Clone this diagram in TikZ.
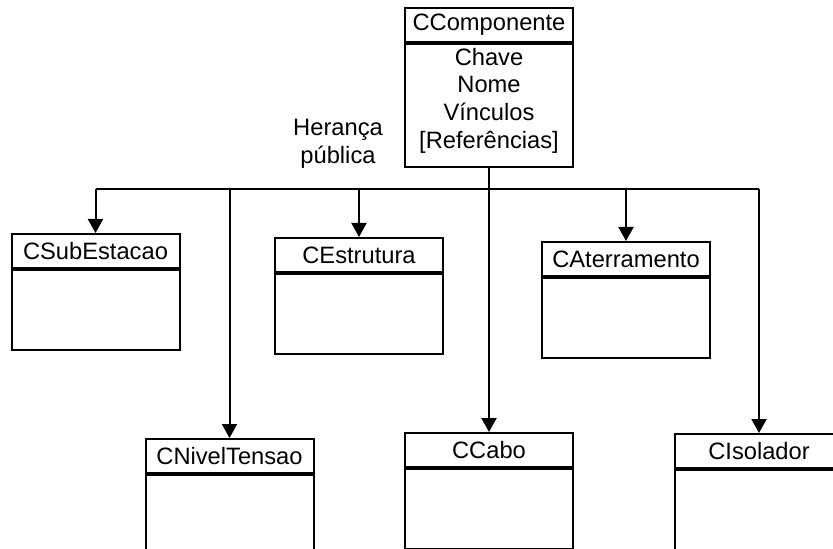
\documentclass[tikz,border=0pt]{standalone}
\usepackage{fontspec}
\setmainfont{Liberation Sans}
\usetikzlibrary{arrows.meta, positioning}
\tikzset{>={Triangle[width=7.5pt,length=7pt]}}
\tikzset{
  classname/.style={draw, line width=1pt, minimum width=84pt, minimum height=17pt, inner sep=0pt, anchor=north},
  classbody/.style={draw, line width=1pt, minimum width=84pt, minimum height=40pt, inner sep=0pt, anchor=north, align=center},
  inherit/.style={->, line width=1pt}
}

\begin{document}
\begin{tikzpicture}[x=0.5pt, y=-0.5pt, font=\fontsize{11.85}{13.85}\selectfont]
\useasboundingbox (0,0) rectangle (833,549);
\clip (0,0) rectangle (833,549);
% base class
\node[classname] (comp) at (489,7) {CComponente};
\node[classbody, minimum height=61.5pt] (comp-b) at (comp.south) {Chave\\Nome\\Vínculos\\{[Referências]}\rule[-7.5pt]{0pt}{1pt}};
% derived classes
\foreach \n/\t/\x/\y in {sub/CSubEstacao/95.5/233, estr/CEstrutura/359/237, ater/CAterramento/626/241,
  nivel/CNivelTensao/229.5/438, cabo/CCabo/489/432, iso/CIsolador/759/433}{
  \node[classname] (\n) at (\x,\y) {\t};
  \node[classbody] (\n-b) at (\n.south) {};
}
\node[align=center] (heranca) at (338,144) {Herança\\pública};
% connectors
\coordinate (bus) at (0,189);
\draw[line width=1pt] (bus -| sub.north) -- (bus -| iso.north);
\draw[inherit] (comp-b.south) -- (cabo.north);
\foreach \n in {sub, nivel, estr, ater, iso}
  \draw[inherit] (bus -| \n.north) -- (\n.north);
\end{tikzpicture}
\end{document}
